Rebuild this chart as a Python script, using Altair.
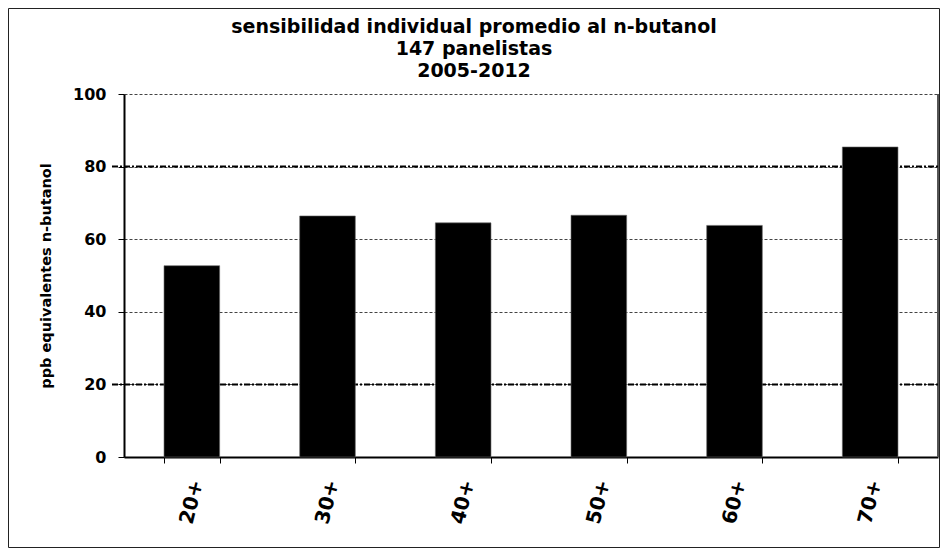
import altair as alt
import pandas as pd

grupos = ["20+", "30+", "40+", "50+", "60+", "70+"]
valores = [52.7, 66.4, 64.5, 66.6, 63.8, 85.4]
lineas_ref = [20, 80]
ticks_y = [0, 20, 40, 60, 80, 100]
titulo = ["sensibilidad individual promedio al n-butanol", "147 panelistas", "2005-2012"]
eje_y = "ppb equivalentes n-butanol"

W, H = 814, 363
FONT = "DejaVu Sans"

df = pd.DataFrame({"grupo": grupos, "valor": valores})
ref = pd.DataFrame({"valor": lineas_ref})
one = pd.DataFrame({"k": [0]})

yscale = alt.Scale(domain=[0, 100])

frame = alt.Chart(one).mark_rect(fill="transparent", stroke="#222", strokeWidth=1).encode(
    x=alt.value(-115.5), x2=alt.value(W + 1.5), y=alt.value(-85.5), y2=alt.value(H + 90.5)
)

right_border = alt.Chart(one).mark_rule(color="#555", strokeWidth=2).encode(
    x=alt.value(W), y=alt.value(0), y2=alt.value(H)
)

ref_rules = alt.Chart(ref).mark_rule(color="black", strokeWidth=2, strokeDash=[6, 2, 2, 2]).encode(
    y=alt.Y("valor:Q", scale=yscale),
    x=alt.value(-12),
    x2=alt.value(W),
)

bars = alt.Chart(df).mark_bar(color="black", stroke="#666", strokeWidth=0.6).encode(
    x=alt.X(
        "grupo:N",
        sort=grupos,
        scale=alt.Scale(paddingInner=0.59, paddingOuter=0.295),
        axis=alt.Axis(
            title=None,
            labelAngle=284,
            labelAlign="right",
            labelBaseline="middle",
            labelFont=FONT,
            labelFontWeight="bold",
            labelFontSize=20,
            labelColor="black",
            labelPadding=17,
            labelOffset=5,
            tickSize=6,
            tickColor="black",
            tickWidth=1,
            tickBand="extent",
            domainColor="black",
            domainWidth=2,
            grid=False,
        ),
    ),
    y=alt.Y(
        "valor:Q",
        scale=yscale,
        axis=alt.Axis(
            title=eje_y,
            values=ticks_y,
            grid=True,
            gridDash=[3, 2],
            gridColor="#444",
            gridWidth=1,
            labelFont=FONT,
            labelFontWeight="bold",
            labelFontSize=16,
            labelColor="black",
            labelPadding=12,
            tickSize=6,
            tickColor="black",
            tickWidth=1,
            domainColor="black",
            domainWidth=2,
            titleFont=FONT,
            titleFontWeight="bold",
            titleFontSize=14.5,
            titleColor="black",
            titlePadding=19,
        ),
    ),
)

chart = alt.layer(frame, right_border, ref_rules, bars).properties(
    width=W,
    height=H,
    padding={"left": 116, "top": 86, "right": 2, "bottom": 91},
    autosize=alt.AutoSizeParams(type="none"),
    title=alt.Title(
        titulo,
        anchor="middle",
        frame="group",
        dx=-57,
        dy=87,
        offset=14,
        font=FONT,
        fontSize=19,
        fontWeight="bold",
        color="black",
        lineHeight=22,
    ),
).configure_view(stroke="transparent")

chart.save("out.html", embed_options={"renderer": "svg", "actions": False})
